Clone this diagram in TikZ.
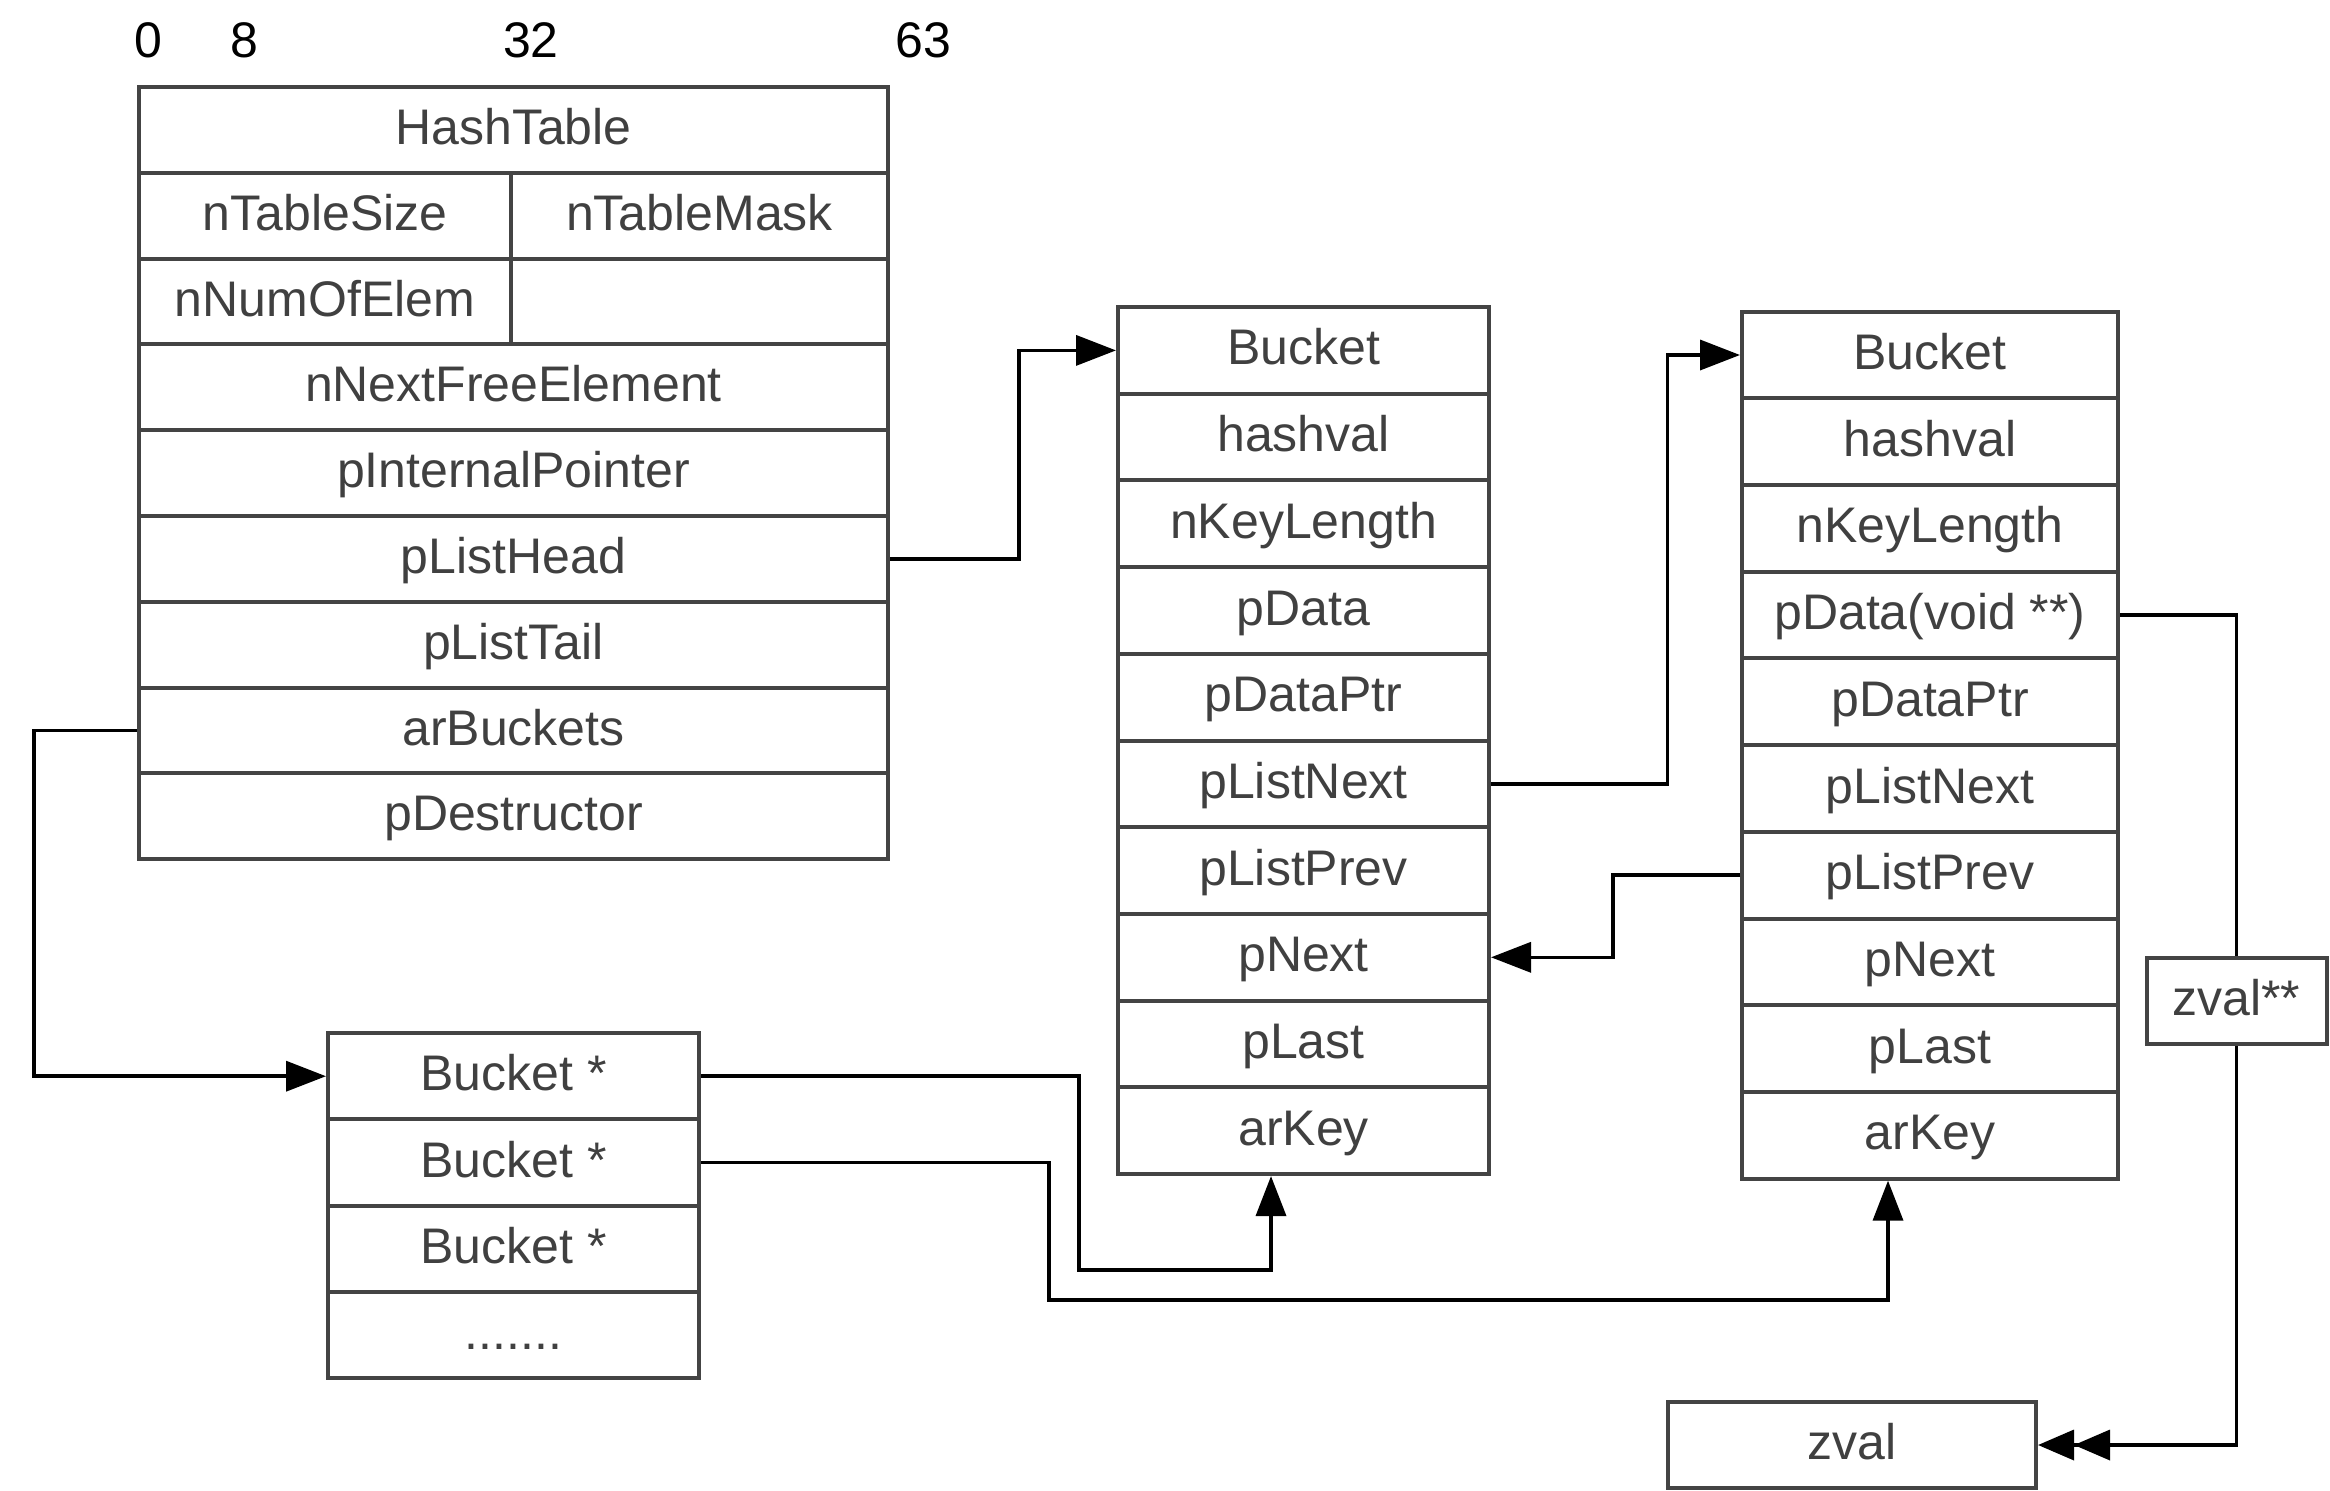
\documentclass[tikz,border=0pt]{standalone}
\usepackage{fontspec}
\setmainfont{Liberation Sans}
\usetikzlibrary{arrows.meta}
\definecolor{boxc}{HTML}{444444}
\definecolor{txtc}{HTML}{404040}
\begin{document}
\begin{tikzpicture}[x=0.5pt,y=-0.5pt,
  cell/.style={draw=boxc, line width=2pt, fill=white, inner sep=0pt,
    text=txtc, font=\fontsize{25pt}{29pt}\selectfont,
    text height=16.5pt, text depth=2pt},
  htc/.style={cell, minimum width=374.5pt, minimum height=42.9pt},
  htl/.style={cell, minimum width=186pt, minimum height=42.9pt},
  htr/.style={cell, minimum width=188.5pt, minimum height=42.9pt},
  arc/.style={cell, minimum width=185.5pt, minimum height=43.15pt},
  bka/.style={cell, minimum width=185.5pt, minimum height=43.35pt},
  bkb/.style={cell, minimum width=188pt, minimum height=43.35pt},
  num/.style={inner sep=0pt, font=\fontsize{25pt}{29pt}\selectfont, text=black},
  conn/.style={line width=1.8pt, draw=black},
  arr/.style={conn, -{Triangle[length=20pt,width=15pt]}},
  darr/.style={conn, -{Triangle[length=18pt,width=15pt] Triangle[length=18pt,width=15pt]}}
]
\useasboundingbox (0,0) rectangle (2330,1490);

% bit offsets
\node[num] (n0) at (148,40) {0};
\node[num] (n8) at (244,40) {8};
\node[num] (n32) at (531,40) {32};
\node[num] (n63) at (923,40) {63};

% HashTable
\node[htc] (htName) at (513.5,129.9) {HashTable};
\node[htl] (htSize) at (325,215.7) {nTableSize};
\node[htr] (htMask) at (699.5,215.7) {nTableMask};
\node[htl] (htNum) at (325,301.5) {nNumOfElem};
\node[htr] (htEmpty) at (699.5,301.5) {};
\node[htc] (htFree) at (513.5,387.3) {nNextFreeElement};
\node[htc] (htInt) at (513.5,473.1) {pInternalPointer};
\node[htc] (htHead) at (513.5,558.9) {pListHead};
\node[htc] (htTail) at (513.5,644.7) {pListTail};
\node[htc] (htAr) at (513.5,730.5) {arBuckets};
\node[htc] (htDes) at (513.5,816.3) {pDestructor};

% Bucket* array
\node[arc] (ar1) at (513.5,1076.2) {Bucket *};
\node[arc] (ar2) at (513.5,1162.5) {Bucket *};
\node[arc] (ar3) at (513.5,1248.8) {Bucket *};
\node[arc] (ar4) at (513.5,1335.1) {.......};

% Bucket 1
\foreach \t [count=\i] in {Bucket,hashval,nKeyLength,pData,pDataPtr,pListNext,pListPrev,pNext,pLast,arKey}
  \node[bka] (b1r\i) at (1303.5,263.7+86.7*\i) {\t};

% Bucket 2
\foreach \t [count=\i] in {Bucket,hashval,nKeyLength,{pData(void **)},pDataPtr,pListNext,pListPrev,pNext,pLast,arKey}
  \node[bkb] (b2r\i) at (1930,268.3+86.7*\i) {\t};

% zval boxes
\node[cell, minimum width=90pt, minimum height=43pt] (zpp) at (2236.5,1001) {zval**};
\node[cell, minimum width=184pt, minimum height=43pt] (zv) at (1852,1445) {zval};

% connectors
\coordinate (jA) at (1019,0);
\draw[arr] (htHead.east) -- (htHead.east -| jA) |- (b1r1.west);
\coordinate (jB) at (34,0);
\draw[arr] (htAr.west) -- (htAr.west -| jB) |- (ar1.west);
\coordinate (jC1) at (1079,1270);
\coordinate (jC2) at (1271,1270);
\draw[arr] (ar1.east) -| (jC1) -- (jC2) -- (jC2 |- b1r10.south);
\coordinate (jD1) at (1049,1300);
\coordinate (jD2) at (1888,1300);
\draw[arr] (ar2.east) -| (jD1) -- (jD2) -- (jD2 |- b2r10.south);
\coordinate (jE) at (1667.5,0);
\draw[arr] (b1r6.east) -- (b1r6.east -| jE) |- (b2r1.west);
\coordinate (jF) at (1613,0);
\draw[arr] (b2r7.west) -- (b2r7.west -| jF) |- (b1r8.east);
\draw[conn] (b2r4.east) -| (zpp.north);
\draw[darr] (zpp.south) |- (zv.east);
\end{tikzpicture}
\end{document}
